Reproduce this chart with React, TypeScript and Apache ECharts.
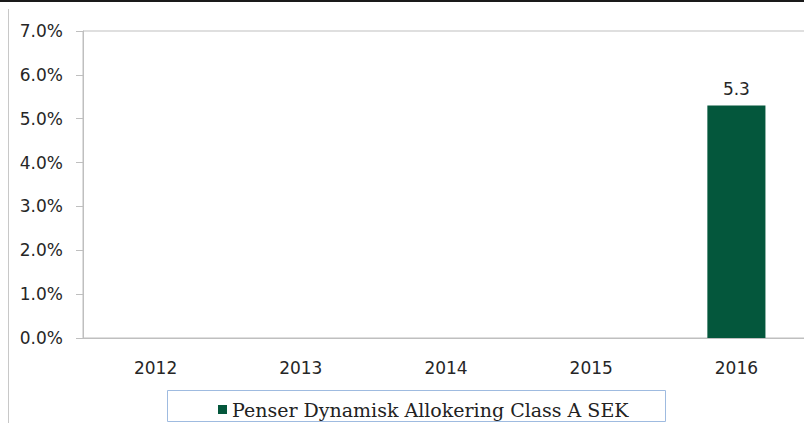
import React, { useEffect, useRef } from "react";
import * as echarts from "echarts";

const categories = ["2012", "2013", "2014", "2015", "2016"];
const seriesName = "Penser Dynamisk Allokering Class A SEK";
const seriesValues: (number | null)[] = [null, null, null, null, 5.3];
const yTicks = [0, 1, 2, 3, 4, 5, 6, 7];

export default function App() {
  const ref = useRef<HTMLDivElement>(null);
  useEffect(() => {
    document.body.style.margin = "0";
    const chart = echarts.init(ref.current!, null, { renderer: "svg" });
    const labelFont = "DejaVu Sans";
    chart.setOption({
      animation: false,
      backgroundColor: "#ffffff",
      grid: {
        left: 83,
        width: 726,
        top: 31,
        bottom: 85,
        show: true,
        borderColor: "#bfbfbf",
        borderWidth: 1,
        outerBoundsMode: "none",
        containLabel: false,
      },
      legend: {
        show: true,
        data: [seriesName],
        left: 213,
        top: 395,
        icon: "rect",
        itemWidth: 9,
        itemHeight: 9,
        itemGap: 7,
        textStyle: { fontFamily: "DejaVu Serif", fontSize: 19, color: "#222222" },
      },
      xAxis: {
        type: "category",
        data: categories,
        axisLine: { show: true, lineStyle: { color: "#bfbfbf", width: 1 } },
        axisTick: { show: false },
        axisLabel: { color: "#262626", fontFamily: labelFont, fontSize: 17, margin: 21 },
      },
      yAxis: {
        type: "value",
        min: yTicks[0],
        max: yTicks[yTicks.length - 1],
        interval: 1,
        splitLine: { show: false },
        axisLine: { show: true, lineStyle: { color: "#bfbfbf", width: 1 } },
        axisTick: { show: true, inside: false, length: 7, lineStyle: { color: "#bfbfbf" } },
        axisLabel: {
          color: "#262626",
          fontFamily: labelFont,
          fontSize: 17,
          margin: 20,
          formatter: (v: number) => v.toFixed(1) + "%",
        },
      },
      series: [
        {
          name: seriesName,
          type: "bar",
          data: seriesValues,
          barWidth: "40%",
          itemStyle: { color: "#04573c" },
          label: {
            show: true,
            position: "top",
            distance: 8,
            color: "#262626",
            fontFamily: labelFont,
            fontSize: 17,
            formatter: (p: any) => String(p.value),
          },
        },
      ],
      graphic: [
        { type: "rect", shape: { x: 0, y: 0, width: 804, height: 2 }, style: { fill: "#1a1a1a" }, silent: true },
        { type: "line", shape: { x1: 8.5, y1: 9, x2: 8.5, y2: 423 }, style: { stroke: "#c8c8c8", lineWidth: 1 }, silent: true },
        {
          type: "rect",
          shape: { x: 167.5, y: 390.5, width: 498, height: 31 },
          style: { fill: "none", stroke: "#9fbbe0", lineWidth: 1 },
          silent: true,
        },
      ],
    });
    return () => chart.dispose();
  }, []);
  return <div ref={ref} style={{ position: "fixed", left: 0, top: 0, width: 804, height: 423 }} />;
}
